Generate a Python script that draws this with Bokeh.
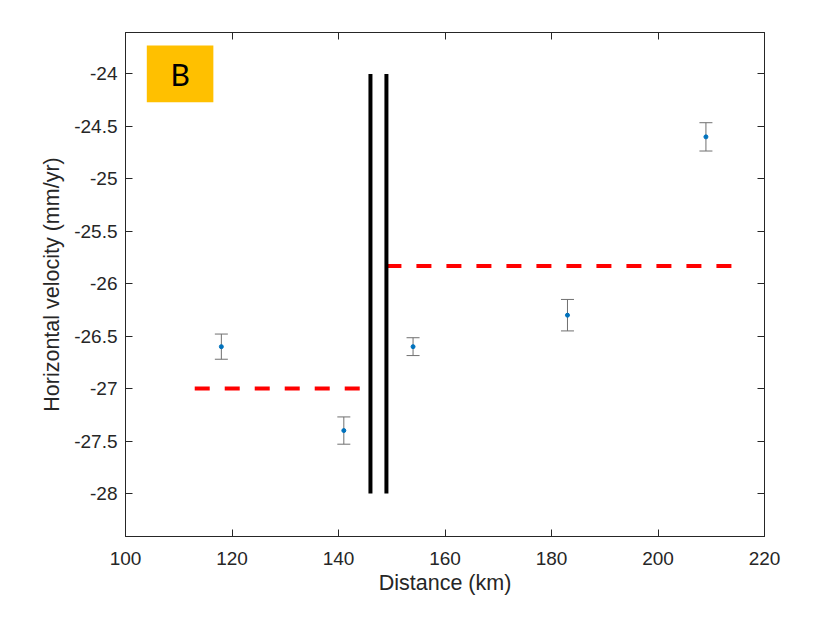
from bokeh.plotting import figure
from bokeh.models import (ColumnDataSource, Whisker, TeeHead, LinearAxis, FixedTicker,
                          CustomJSTickFormatter, BoxAnnotation, Label, Range1d)
from bokeh.embed import file_html
from bokeh.resources import INLINE

# ---- data ----
distance_km = [118, 141, 154, 183, 209]
velocity = [-26.60, -27.40, -26.60, -26.30, -24.60]
velocity_err = [0.12, 0.13, 0.085, 0.15, 0.135]

fault_x = [146, 149]
fault_y0 = [-28, -28]
fault_y1 = [-24, -24]

mean_x0 = [113, 149]
mean_x1 = [146, 215]
mean_y = [-27.0, -25.83]

x_ticks = [100, 120, 140, 160, 180, 200, 220]
y_ticks = [-28, -27.5, -27, -26.5, -26, -25.5, -25, -24.5, -24]

panel_label = "B"

TXT = "#262626"
FONT = "Liberation Sans"

p = figure(width=815, height=628, output_backend="svg", toolbar_location=None,
           x_range=Range1d(100, 220), y_range=Range1d(-28.41, -23.605),
           min_border_left=125, min_border_right=51, min_border_top=32, min_border_bottom=92,
           background_fill_color="white", border_fill_color="white")
p.grid.visible = False
p.outline_line_color = TXT
p.outline_line_width = 1

plain = CustomJSTickFormatter(code="return tick.toString()")

def style_axis(ax):
    ax.axis_line_color = TXT
    ax.major_tick_line_color = TXT
    ax.major_tick_in = 7
    ax.major_tick_out = 0
    ax.minor_tick_line_color = None
    ax.major_label_text_color = TXT
    ax.major_label_text_font = FONT
    ax.major_label_text_font_size = "19px"
    ax.axis_label_text_color = TXT
    ax.axis_label_text_font = FONT
    ax.axis_label_text_font_size = "21.5px"
    ax.axis_label_text_font_style = "normal"

xa = p.xaxis[0]
ya = p.yaxis[0]
xa.ticker = FixedTicker(ticks=x_ticks)
ya.ticker = FixedTicker(ticks=y_ticks)
xa.formatter = plain
ya.formatter = plain
style_axis(xa)
style_axis(ya)
xa.axis_label = "Distance (km)"
ya.axis_label = "Horizontal velocity (mm/yr)"
xa.major_label_standoff = 15
xa.axis_label_standoff = 3
ya.major_label_standoff = 8
ya.axis_label_standoff = 7

empty = CustomJSTickFormatter(code="return ''")
top = LinearAxis(ticker=FixedTicker(ticks=x_ticks), formatter=empty)
right = LinearAxis(ticker=FixedTicker(ticks=y_ticks), formatter=empty)
for ax in (top, right):
    style_axis(ax)
    ax.major_label_standoff = 0
p.add_layout(top, "above")
p.add_layout(right, "right")

# panel label box
box = BoxAnnotation(left=104.0, right=116.5, top=-23.73, bottom=-24.27,
                    fill_color="#FFC000", fill_alpha=1.0, line_color=None)
p.add_layout(box)
p.add_layout(Label(x=110.25, y=-24.0, text=panel_label, text_align="center",
                   text_baseline="middle", text_font="Lato", text_font_size="30px",
                   text_color="black"))

# mean dashed lines
p.segment(x0=mean_x0, x1=mean_x1, y0=mean_y, y1=mean_y, line_color="red",
          line_width=4, line_dash="15 15")

# fault lines
p.segment(x0=fault_x, x1=fault_x, y0=fault_y0, y1=fault_y1, line_color="black", line_width=4)

# error bars
upper = [v + e for v, e in zip(velocity, velocity_err)]
lower = [v - e for v, e in zip(velocity, velocity_err)]
src = ColumnDataSource(dict(x=distance_km, y=velocity, upper=upper, lower=lower))
w = Whisker(source=src, base="x", upper="upper", lower="lower",
            line_color="#707070", line_width=1,
            upper_head=TeeHead(size=13, line_color="#707070", line_width=1),
            lower_head=TeeHead(size=13, line_color="#707070", line_width=1))
p.add_layout(w)
p.scatter("x", "y", source=src, size=4, color="#0072BD")

open("out.html", "w").write(file_html(p, INLINE))
